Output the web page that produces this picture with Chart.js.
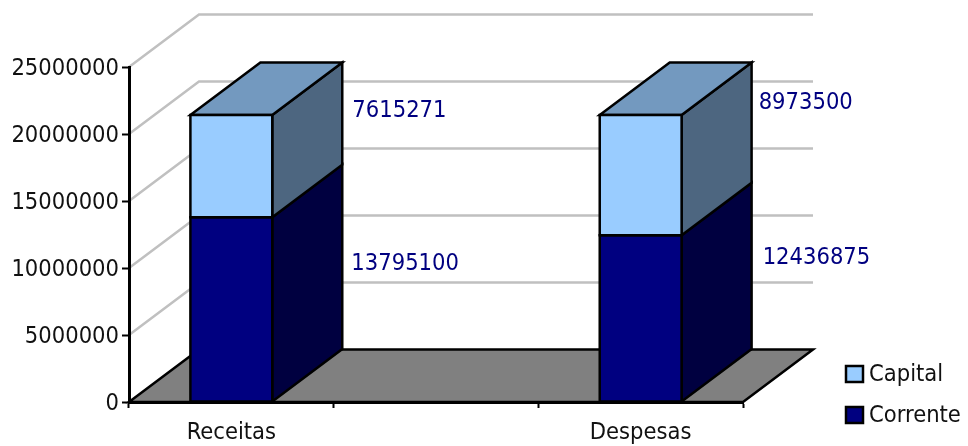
<!DOCTYPE html>
<html>
<head>
<meta charset="utf-8">
<title>Receitas e Despesas</title>
<script src="https://cdn.jsdelivr.net/npm/chart.js@4"></script>
<style>
    body { margin: 0; background: #fff; }
    canvas { display: block; }
</style>
</head>
<body>
<canvas id="myChart" width="968" height="446"></canvas>
<script>
const categories = ['Receitas', '', 'Despesas'];
const corrente = [13795100, null, 12436875];
const capital = [7615271, null, 8973500];
const yTicks = [0, 5000000, 10000000, 15000000, 20000000, 25000000];

const FONT_FAMILY = '"DejaVu Sans Condensed", "DejaVu Sans", sans-serif';
const FONT_SIZE = 23.5;
const TEXT = '#111';
const depthX = 70;
const depthY = 52.5;

// where the value labels sit, relative to the middle of the bar segment
const labelOffsetCorrente = [[120, -45], null, [122, -61]];
const labelOffsetCapital = [[121, -55], null, [118, -72]];

function poly(ctx, pts, fill, stroke, lineWidth){
    ctx.beginPath();
    pts.forEach((p, i) => i == 0 ? ctx.moveTo(p[0], p[1]) : ctx.lineTo(p[0], p[1]));
    ctx.closePath();
    if(fill){
        ctx.fillStyle = fill;
        ctx.fill();
    }
    if(stroke){
        ctx.strokeStyle = stroke;
        ctx.lineWidth = lineWidth;
        ctx.lineJoin = 'miter';
        ctx.stroke();
    }
}

// back wall lines, floor and the depth faces of the bars
const depthPlugin = {
    id: 'depth',
    beforeDraw(chart){
        // canvas middle baseline sits a bit high for this font
        chart.scales.y.getLabelItems().forEach(item => { item.options.translation[1] += 1.5; });
        chart.scales.x.getLabelItems().forEach(item => { item.options.translation[1] += 1; });
    },
    beforeDatasetsDraw(chart){
        const ctx = chart.ctx;
        const area = chart.chartArea;
        const y = chart.scales.y;

        ctx.save();
        ctx.strokeStyle = '#c0c0c0';
        ctx.lineWidth = 2.5;
        yTicks.forEach(t => {
            if(t == 0) return;
            const py = y.getPixelForValue(t);
            ctx.beginPath();
            ctx.moveTo(area.left, py);
            ctx.lineTo(area.left + depthX, py - depthY);
            ctx.lineTo(area.right + depthX, py - depthY);
            ctx.stroke();
        });

        poly(ctx, [
            [area.left, area.bottom],
            [area.left + depthX, area.bottom - depthY],
            [area.right + depthX, area.bottom - depthY],
            [area.right, area.bottom]
        ], '#808080', '#000', 2.5);

        chart.data.datasets.forEach((ds, i) => {
            chart.getDatasetMeta(i).data.forEach((bar, j) => {
                if(ds.data[j] == null) return;
                const right = bar.x + bar.width / 2;
                const left = bar.x - bar.width / 2;
                poly(ctx, [
                    [right, bar.base],
                    [right + depthX, bar.base - depthY],
                    [right + depthX, bar.y - depthY],
                    [right, bar.y]
                ], ds.sideColor, '#000', 2.5);
                if(i == chart.data.datasets.length - 1){
                    poly(ctx, [
                        [left, bar.y],
                        [left + depthX, bar.y - depthY],
                        [right + depthX, bar.y - depthY],
                        [right, bar.y]
                    ], ds.topColor, '#000', 2.5);
                }
            });
        });
        ctx.restore();
    },
    afterDatasetsDraw(chart){
        const ctx = chart.ctx;
        ctx.save();
        ctx.font = FONT_SIZE + 'px ' + FONT_FAMILY;
        ctx.textAlign = 'left';
        ctx.textBaseline = 'middle';
        chart.data.datasets.forEach((ds, i) => {
            chart.getDatasetMeta(i).data.forEach((bar, j) => {
                if(ds.data[j] == null) return;
                // outline of the front face
                const right = bar.x + bar.width / 2;
                const left = bar.x - bar.width / 2;
                poly(ctx, [[left, bar.y], [right, bar.y], [right, bar.base], [left, bar.base]], null, '#000', 2.5);
                const off = ds.labelOffset[j];
                ctx.fillStyle = '#000080';
                ctx.fillText(String(ds.data[j]), bar.x + off[0], (bar.y + bar.base) / 2 + off[1]);
            });
        });

        // legend, top row is the top of the stack
        const legendX = 846;
        let legendY = 366;
        chart.data.datasets.slice().reverse().forEach(ds => {
            poly(ctx, [
                [legendX, legendY],
                [legendX + 17, legendY],
                [legendX + 17, legendY + 16],
                [legendX, legendY + 16]
            ], ds.backgroundColor, '#000', 2.5);
            ctx.fillStyle = TEXT;
            ctx.fillText(ds.label, legendX + 23, legendY + 9);
            legendY += 41;
        });
        ctx.restore();
    }
};

new Chart(document.getElementById('myChart').getContext('2d'), {
    type: 'bar',
    data: {
        labels: categories,
        datasets: [
            {
                label: 'Corrente',
                data: corrente,
                backgroundColor: '#000080',
                sideColor: '#000040',
                borderWidth: 0,
                labelOffset: labelOffsetCorrente
            },
            {
                label: 'Capital',
                data: capital,
                backgroundColor: '#99ccff',
                sideColor: '#4d6680',
                topColor: '#7399bf',
                borderWidth: 0,
                labelOffset: labelOffsetCapital
            }
        ]
    },
    options: {
        responsive: false,
        animation: false,
        events: [],
        layout: { padding: { top: 67, right: 225, left: 0, bottom: 0 } },
        datasets: { bar: { categoryPercentage: 1, barPercentage: 0.4 } },
        plugins: {
            legend: { display: false },
            tooltip: { enabled: false }
        },
        scales: {
            x: {
                stacked: true,
                afterFit(scale){ scale.height = 44; },
                grid: { drawOnChartArea: false, tickLength: 6, tickColor: '#000', tickWidth: 2 },
                border: { color: '#000', width: 3, z: 2 },
                ticks: {
                    font: { family: FONT_FAMILY, size: FONT_SIZE },
                    color: TEXT,
                    padding: 10,
                    maxRotation: 0,
                    autoSkip: false
                }
            },
            y: {
                stacked: true,
                min: 0,
                max: 25000000,
                afterFit(scale){ scale.width = 129; },
                afterBuildTicks(scale){ scale.ticks = yTicks.map(v => ({ value: v })); },
                grid: { drawOnChartArea: false, tickLength: 7, tickColor: '#000', tickWidth: 2 },
                border: { color: '#000', width: 3, z: 2 },
                ticks: {
                    font: { family: FONT_FAMILY, size: FONT_SIZE },
                    color: TEXT,
                    padding: 3,
                    callback: v => String(v)
                }
            }
        }
    },
    plugins: [depthPlugin]
});
</script>
</body>
</html>
